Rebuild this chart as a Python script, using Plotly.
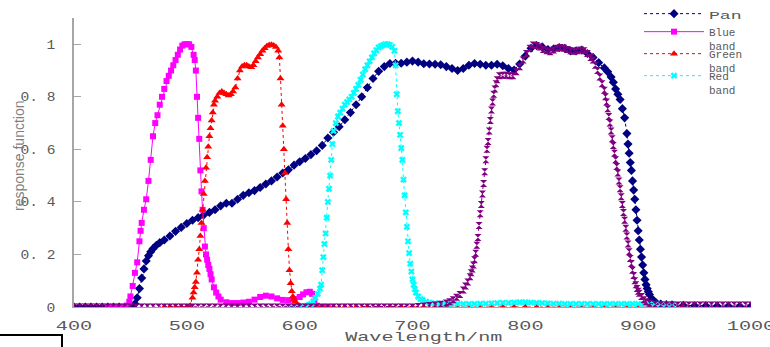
import plotly.graph_objects as go

# ---------------- data ----------------
x_ticks = [400, 500, 600, 700, 800, 900, 1000]
y_ticks = [0, 0.2, 0.4, 0.6, 0.8, 1.0]
y_ticktext = ["0", "0. 2", "0. 4", "0. 6", "0. 8", "1"]

pan_wl = [400, 405, 410, 415, 420, 425, 430, 435, 440, 445,
          450, 452, 454, 456, 458, 460, 462, 464, 466, 468,
          470, 473, 476, 480, 485, 490, 495, 500, 505, 510,
          515, 520, 525, 530, 535, 540, 545, 550, 555, 560,
          565, 570, 575, 580, 585, 590, 595, 600, 605, 610,
          615, 620, 625, 630, 635, 640, 645, 650, 655, 660,
          665, 670, 675, 680, 685, 690, 695, 700, 705, 710,
          715, 720, 725, 730, 735, 740, 745, 750, 755, 760,
          765, 770, 775, 780, 785, 790, 795, 800, 805, 810,
          815, 820, 825, 830, 835, 840, 845, 850, 855, 860,
          865, 870, 873, 876, 878, 880, 882, 884, 886, 888,
          890, 891, 892, 893, 894, 895, 896, 897, 898, 899,
          900, 901, 902, 903, 904, 905, 906, 907, 908, 909,
          910, 912, 914, 916, 920, 925, 930, 940, 950, 960,
          970, 980, 990, 1000]
pan_val = [0, 0, 0, 0, 0, 0, 0, 0, 0, 0,
           0, 0.003, 0.012, 0.035, 0.07, 0.11, 0.145, 0.175, 0.195, 0.21,
           0.222, 0.235, 0.245, 0.255, 0.27, 0.288, 0.303, 0.318, 0.33, 0.34,
           0.35, 0.36, 0.37, 0.385, 0.395, 0.395, 0.41, 0.425, 0.435, 0.443,
           0.455, 0.468, 0.48, 0.495, 0.51, 0.522, 0.54, 0.553, 0.565, 0.58,
           0.595, 0.615, 0.643, 0.665, 0.686, 0.713, 0.74, 0.77, 0.80, 0.835,
           0.87, 0.897, 0.915, 0.927, 0.928, 0.928, 0.932, 0.936, 0.932, 0.926,
           0.925, 0.924, 0.922, 0.915, 0.908, 0.90, 0.908, 0.92, 0.927, 0.924,
           0.92, 0.92, 0.924, 0.918, 0.908, 0.902, 0.925, 0.955, 0.985, 0.995,
           0.99, 0.98, 0.982, 0.988, 0.985, 0.975, 0.975, 0.978, 0.965, 0.95,
           0.93, 0.91, 0.895, 0.875, 0.855, 0.83, 0.81, 0.79, 0.755, 0.72,
           0.66, 0.62, 0.585, 0.55, 0.52, 0.48, 0.445, 0.41, 0.37, 0.33,
           0.29, 0.255, 0.22, 0.19, 0.16, 0.13, 0.105, 0.085, 0.07, 0.058,
           0.048, 0.032, 0.022, 0.016, 0.011, 0.009, 0.008, 0.006, 0.005, 0.005,
           0.004, 0.004, 0.003, 0.003]

blue_wl = [430, 435, 440, 445, 447, 449, 450, 452, 454, 456,
           458, 459, 460, 462, 464, 466, 468, 470, 472, 474,
           476, 478, 480, 482, 484, 486, 488, 490, 492, 494,
           496, 498, 500, 502, 504, 506, 507, 508, 509, 510,
           511, 512, 513, 514, 515, 516, 517, 518, 519, 520,
           521, 522, 524, 526, 528, 530, 535, 540, 545, 550,
           555, 560, 565, 570, 575, 580, 585, 590, 595, 600,
           603, 606, 609, 611, 613, 615, 620, 625]
blue_val = [0, 0, 0, 0, 0.005, 0.02, 0.04, 0.08, 0.13, 0.17,
            0.25, 0.29, 0.32, 0.37, 0.41, 0.48, 0.56, 0.65, 0.70, 0.73,
            0.77, 0.80, 0.83, 0.86, 0.88, 0.90, 0.92, 0.94, 0.96, 0.98,
            0.995, 1.0, 1.0, 1.0, 0.99, 0.96, 0.94, 0.90, 0.80, 0.72,
            0.64, 0.52, 0.44, 0.37, 0.30, 0.23, 0.20, 0.18, 0.16, 0.145,
            0.125, 0.105, 0.075, 0.055, 0.04, 0.028, 0.018, 0.015, 0.015, 0.017,
            0.02, 0.028, 0.038, 0.043, 0.04, 0.033, 0.027, 0.026, 0.03, 0.038,
            0.048, 0.056, 0.058, 0.05, 0.02, 0.005, 0, 0]

green_wl = [480, 485, 490, 495, 500, 503, 505, 506, 507, 508,
            509, 510, 511, 512, 513, 514, 515, 516, 517, 518,
            519, 520, 521, 522, 523, 524, 525, 527, 529, 531,
            533, 535, 537, 539, 541, 543, 545, 547, 549, 551,
            553, 555, 557, 559, 561, 563, 565, 567, 569, 571,
            573, 575, 577, 579, 581, 582, 583, 584, 585, 586,
            587, 588, 589, 590, 591, 592, 593, 594, 595, 596,
            598, 600, 605, 610, 620, 630, 640, 650, 660, 670,
            680, 690, 700, 710, 720, 730, 740, 750, 760, 770,
            780, 790, 800, 810, 820, 830, 840, 850, 860, 870,
            880, 890, 900, 910, 920, 930, 940]
green_val = [0, 0, 0, 0, 0, 0.005, 0.035, 0.055, 0.075, 0.095,
             0.13, 0.18, 0.22, 0.27, 0.32, 0.37, 0.43, 0.48, 0.53, 0.57,
             0.61, 0.65, 0.68, 0.71, 0.74, 0.77, 0.785, 0.80, 0.815, 0.82,
             0.815, 0.81, 0.805, 0.81, 0.82, 0.835, 0.87, 0.90, 0.915, 0.92,
             0.92, 0.915, 0.913, 0.92, 0.935, 0.95, 0.962, 0.975, 0.985, 0.993,
             0.997, 0.998, 0.995, 0.99, 0.975, 0.95, 0.87, 0.77, 0.69, 0.60,
             0.51, 0.41, 0.32, 0.22, 0.14, 0.09, 0.06, 0.04, 0.03, 0.02,
             0.01, 0.005, 0.003, 0.002, 0, 0, 0, 0, 0, 0,
             0, 0, 0, 0, 0, 0, 0, 0, 0, 0,
             0, 0, 0, 0, 0, 0, 0, 0, 0, 0,
             0, 0, 0, 0, 0, 0, 0]

red_wl = [590, 595, 600, 605, 608, 610, 612, 614, 616, 618,
          619, 620, 621, 622, 623, 624, 625, 626, 627, 628,
          629, 630, 632, 634, 636, 638, 640, 642, 644, 646,
          648, 650, 652, 654, 656, 658, 660, 662, 664, 666,
          668, 670, 672, 674, 676, 678, 680, 682, 684, 685,
          686, 687, 688, 689, 690, 691, 692, 693, 694, 695,
          696, 697, 698, 699, 700, 701, 702, 703, 705, 707,
          709, 712, 715, 720, 725, 730, 735, 740, 745, 750,
          755, 760, 765, 770, 775, 780, 785, 790, 795, 800,
          805, 810, 815, 820, 825, 830, 835, 840, 845, 850,
          855, 860, 865, 870, 875, 880, 885, 890, 895, 900,
          905, 910, 915, 920, 925, 930]
red_val = [0, 0, 0, 0.003, 0.008, 0.012, 0.02, 0.035, 0.05, 0.07,
           0.085, 0.14, 0.19, 0.24, 0.28, 0.34, 0.40, 0.45, 0.50, 0.56,
           0.62, 0.67, 0.70, 0.725, 0.74, 0.755, 0.77, 0.78, 0.79, 0.80,
           0.815, 0.83, 0.845, 0.865, 0.885, 0.905, 0.92, 0.935, 0.95, 0.965,
           0.978, 0.988, 0.993, 0.997, 1.0, 1.0, 0.997, 0.99, 0.975, 0.92,
           0.81, 0.745, 0.70, 0.655, 0.605, 0.56, 0.485, 0.425, 0.36, 0.305,
           0.25, 0.205, 0.165, 0.135, 0.105, 0.085, 0.068, 0.055, 0.04, 0.03,
           0.027, 0.02, 0.017, 0.014, 0.013, 0.012, 0.012, 0.012, 0.012, 0.012,
           0.012, 0.013, 0.013, 0.014, 0.015, 0.016, 0.016, 0.017, 0.018, 0.018,
           0.017, 0.016, 0.015, 0.014, 0.013, 0.013, 0.012, 0.012, 0.012, 0.012,
           0.012, 0.012, 0.012, 0.012, 0.012, 0.012, 0.012, 0.012, 0.012, 0.012,
           0.012, 0.012, 0.012, 0.011, 0.011, 0.01]

nir_wl = [400, 405, 410, 415, 420, 425, 430, 435, 440, 445,
          450, 455, 460, 465, 470, 475, 480, 485, 490, 495,
          500, 505, 510, 515, 520, 525, 530, 535, 540, 545,
          550, 555, 560, 565, 570, 575, 580, 585, 590, 595,
          600, 605, 610, 615, 620, 625, 630, 635, 640, 645,
          650, 655, 660, 665, 670, 675, 680, 685, 690, 695,
          700, 705, 710, 715, 720, 725, 730, 733, 736, 739,
          742, 745, 747, 749, 751, 752, 753, 754, 755, 756,
          757, 758, 759, 760, 761, 762, 763, 764, 765, 766,
          767, 768, 769, 770, 771, 772, 773, 774, 775, 777,
          780, 783, 786, 789, 792, 795, 798, 801, 804, 807,
          810, 813, 816, 819, 822, 825, 828, 831, 834, 837,
          840, 843, 846, 849, 852, 855, 858, 860, 862, 864,
          866, 868, 870, 871, 872, 873, 874, 875, 876, 877,
          878, 879, 880, 881, 882, 883, 884, 885, 886, 887,
          888, 889, 890, 891, 892, 893, 894, 895, 896, 897,
          898, 899, 900, 901, 903, 905, 907, 910, 915, 920,
          925, 930, 935, 940, 945, 950, 955, 960, 965, 970,
          975, 980, 985, 990, 995, 1000]
nir_val = [0, 0, 0, 0, 0, 0, 0, 0, 0, 0,
           0, 0, 0, 0, 0, 0, 0, 0, 0, 0,
           0, 0, 0, 0, 0, 0, 0, 0, 0, 0,
           0, 0, 0, 0, 0, 0, 0, 0, 0, 0,
           0, 0, 0, 0, 0, 0, 0, 0, 0, 0,
           0, 0, 0, 0, 0, 0, 0, 0, 0, 0,
           0, 0.002, 0.004, 0.006, 0.008, 0.01, 0.015, 0.02, 0.028, 0.037,
           0.048, 0.065, 0.08, 0.095, 0.115, 0.13, 0.145, 0.16, 0.18, 0.205,
           0.235, 0.265, 0.31, 0.355, 0.39, 0.43, 0.47, 0.515, 0.56, 0.60,
           0.63, 0.67, 0.71, 0.75, 0.78, 0.81, 0.83, 0.85, 0.865, 0.88,
           0.882, 0.882, 0.88, 0.88, 0.895, 0.914, 0.94, 0.965, 0.985, 0.997,
           0.995, 0.99, 0.98, 0.975, 0.972, 0.978, 0.985, 0.988, 0.985, 0.98,
           0.975, 0.973, 0.975, 0.978, 0.975, 0.965, 0.95, 0.94, 0.92, 0.90,
           0.875, 0.85, 0.825, 0.80, 0.78, 0.755, 0.725, 0.70, 0.67, 0.64,
           0.615, 0.585, 0.56, 0.535, 0.51, 0.48, 0.45, 0.42, 0.39, 0.36,
           0.33, 0.30, 0.27, 0.24, 0.21, 0.185, 0.166, 0.14, 0.12, 0.10,
           0.085, 0.07, 0.06, 0.052, 0.04, 0.028, 0.02, 0.014, 0.01, 0.009,
           0.008, 0.008, 0.008, 0.008, 0.008, 0.008, 0.008, 0.008, 0.008, 0.008,
           0.008, 0.008, 0.008, 0.008, 0.008, 0.008]

# ---------------- figure ----------------
W, H = 770, 347
ML, MR, MT, MB = 74, 19, 18, 40
PW, PH = W - ML - MR, H - MT - MB


def px_x(px):
    return (px - ML) / PW


def px_y(py):
    return (H - MB - py) / PH


MONO = "Liberation Mono"
TXT = "#595959"

fig = go.Figure()
fig.add_trace(go.Scatter(
    x=pan_wl, y=pan_val, name="Pan", mode="lines+markers",
    line=dict(color="#000080", width=1, dash="dot"),
    marker=dict(symbol="diamond", size=7, color="#000080"),
    legend="legend"))
fig.add_trace(go.Scatter(
    x=blue_wl, y=blue_val, name="Blue<br>band", mode="lines+markers",
    line=dict(color="#FF00FF", width=1),
    marker=dict(symbol="square", size=6, color="#FF00FF"),
    legend="legend2"))
fig.add_trace(go.Scatter(
    x=green_wl, y=green_val, name="Green<br>band", mode="lines+markers",
    line=dict(color="#FF0000", width=1, dash="dot"),
    marker=dict(symbol="triangle-up", size=7, color="#FF0000"),
    legend="legend3"))
fig.add_trace(go.Scatter(
    x=red_wl, y=red_val, name="Red<br>band", mode="lines+markers",
    line=dict(color="#00FFFF", width=1, dash="dot"),
    marker=dict(symbol="x", size=6, color="#00FFFF"),
    legend="legend4"))
fig.add_trace(go.Scatter(
    x=nir_wl, y=nir_val, name="NIR band", mode="lines+markers",
    line=dict(color="#800080", width=1, dash="dot"),
    marker=dict(symbol="hourglass", size=7, color="#800080"),
    showlegend=False))


def leg(py):
    return dict(x=px_x(639), xanchor="left", y=px_y(py), yanchor="top",
                bgcolor="rgba(0,0,0,0)", borderwidth=0, valign="top",
                font=dict(family=MONO, size=11, color=TXT),
                itemwidth=60, tracegroupgap=0)


fig.update_layout(
    width=W, height=H,
    margin=dict(l=ML, r=MR, t=MT, b=MB, autoexpand=False),
    paper_bgcolor="white", plot_bgcolor="white",
    font=dict(family=MONO, size=13, color=TXT),
    showlegend=True,
    legend=leg(0), legend2=leg(18), legend3=leg(40), legend4=leg(62),
    xaxis=dict(range=[400, 1000], tickvals=x_ticks, ticks="",
               showline=True, linecolor="#A6A6A6", linewidth=1,
               showgrid=False, zeroline=False, ticklabelstandoff=6,
               tickfont=dict(family=MONO, size=13, color=TXT)),
    yaxis=dict(range=[0, 1.1], tickvals=y_ticks, ticktext=y_ticktext,
               ticks="inside", ticklen=7, tickcolor="#A6A6A6", tickwidth=1,
               showline=True, linecolor="#A6A6A6", linewidth=2,
               showgrid=False, zeroline=False, ticklabelstandoff=14,
               tickfont=dict(family=MONO, size=13, color=TXT)),
    annotations=[
        dict(text="Wavelength/nm", xref="paper", yref="paper",
             x=px_x(424), y=px_y(337), xanchor="center", yanchor="middle",
             showarrow=False, font=dict(family=MONO, size=13, color=TXT)),
        dict(text="response function", xref="paper", yref="paper",
             x=px_x(19), y=px_y(155), xanchor="center", yanchor="middle",
             textangle=-90, showarrow=False,
             font=dict(family="Liberation Sans", size=14, color="#7F7F7F")),
    ],
    shapes=[
        dict(type="rect", xref="paper", yref="paper",
             x0=px_x(-5), x1=px_x(62), y0=px_y(352), y1=px_y(335),
             line=dict(color="black", width=2), fillcolor="rgba(0,0,0,0)"),
    ],
)

# page tweaks: no body margin, and the reference's horizontally wide lettering.
# Each element is processed once (marked), and the pass is repeated a few times
# so that anything drawn after the first pass is handled too.
post = """
document.body.style.margin = '0';
document.body.style.overflow = 'hidden';
function once(el) {
  if (el.getAttribute('data-wide') === '1') { return false; }
  el.setAttribute('data-wide', '1');
  return true;
}
function stretch(el, f) {
  try {
    if (!once(el)) { return; }
    var L = el.getComputedTextLength();
    if (L > 0) {
      el.setAttribute('textLength', (L * f).toFixed(1));
      el.setAttribute('lengthAdjust', 'spacingAndGlyphs');
    }
  } catch (e) {}
}
function widen(el, f) {
  try {
    if (!once(el)) { return; }
    var x0 = el.getBBox().x;
    el.setAttribute('transform', 'matrix(' + f + ',0,0,1,' + (-(f - 1) * x0).toFixed(2) + ',0)');
  } catch (e) {}
}
function pass() {
  try {
    document.querySelectorAll('.xtick text').forEach(function (t) { stretch(t, 1.55); });
    document.querySelectorAll('.ytick text').forEach(function (t) { stretch(t, 1.12); });
    document.querySelectorAll('[clip-path]').forEach(function (g) {
      var c = g.getAttribute('clip-path') || '';
      if (c.indexOf('legend') >= 0) { g.removeAttribute('clip-path'); }
    });
    document.querySelectorAll('text.legendtext').forEach(function (t) { widen(t, 1.65); });
    document.querySelectorAll('.annotation-text').forEach(function (t) {
      if (t.textContent === 'Wavelength/nm') { stretch(t, 1.55); }
    });
  } catch (e) {}
}
pass();
setTimeout(pass, 0);
setTimeout(pass, 60);
setTimeout(pass, 250);
setTimeout(pass, 700);
"""

fig.write_html("out.html", post_script=post,
               config={"displayModeBar": False})
